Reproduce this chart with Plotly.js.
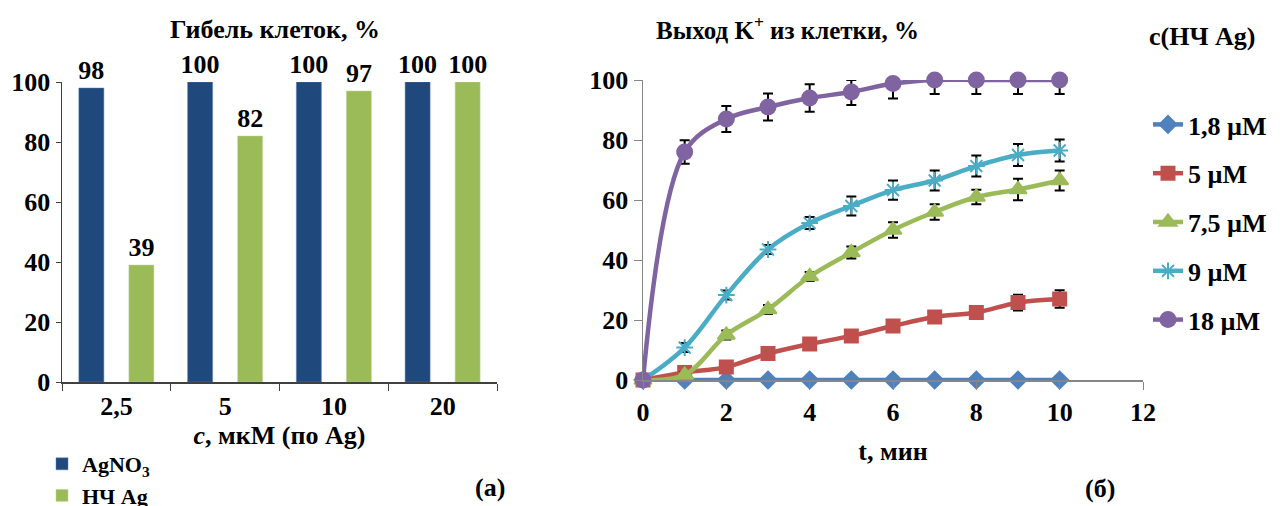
<!DOCTYPE html>
<html><head><meta charset="utf-8">
<script src="https://cdn.plot.ly/plotly-3.0.1.min.js"></script>
<style>
html,body{margin:0;padding:0;background:#fff}
#chart svg text{font-family:'Liberation Serif' !important;font-weight:bold !important}
</style>
</head><body>
<div id="chart" style="width:1285px;height:506px"></div>
<script>
// ---- Left chart data (cell death, %) ----
const concCats = ['2,5', '5', '10', '20'];
const agno3Vals = [98, 100, 100, 100];
const nanoVals = [39, 82, 97, 100];
const barNames = ['AgNO<sub>3</sub>', 'НЧ Ag'];

// ---- Right chart data (K+ release, %) ----
const tMin = [0, 1, 2, 3, 4, 5, 6, 7, 8, 9, 10];
const seriesNames = ['1,8 µM', '5 µM', '7,5 µM', '9 µM', '18 µM'];
const k18 = [0, 0, 0, 0, 0, 0, 0, 0, 0, 0, 0];
const k5 = [0, 2.5, 4.3, 8.8, 12, 14.7, 18, 21, 22.5, 25.8, 27];
const k75 = [0, 1.7, 15, 23.5, 34.5, 42.5, 50, 56, 61, 63.5, 66.5];
const k9 = [0, 10.8, 28.3, 43.5, 52.3, 58, 63.3, 66.5, 71.3, 75, 76.5];
const k18uM = [0, 76, 87, 91, 94, 96, 98.8, 100, 100, 100, 100];
const e18 = [0, 1, 1, 1, 1, 1, 1, 1, 1, 1, 1];
const e5 = [0, 0.5, 1, 1, 1, 1, 1, 1, 1.5, 2.6, 2.9];
const e75 = [0, 1, 1.5, 1.5, 1.5, 2, 2.6, 2.6, 2.4, 3.6, 3.3];
const e9 = [0, 1.5, 1.5, 1.5, 2, 3.2, 3.2, 3.3, 3.5, 3.7, 3.7];
const e18uM = [0, 3.9, 4.3, 4.5, 4.6, 4.3, 5, 4.7, 4.7, 4.7, 4.7];

const W = 1285, H = 506;
const px = x => x / W, py = y => (H - y) / H;
const FONT = 'Liberation Serif';
const bold = (size) => ({family: FONT, size: size, color: '#000', weight: 'bold'});

const traces = [];
traces.push({
  type: 'bar', x: concCats, y: agno3Vals, name: barNames[0], xaxis: 'x', yaxis: 'y',
  marker: {color: '#1F497D', line: {color: '#5a7fae', width: 0.5}},
  text: agno3Vals.map(String), textposition: 'outside', constraintext: 'none',
  textfont: bold(26), cliponaxis: false, legend: 'legend', hoverinfo: 'skip'
});
traces.push({
  type: 'bar', x: concCats, y: nanoVals, name: barNames[1], xaxis: 'x', yaxis: 'y',
  marker: {color: '#9BBB59', line: {color: '#c3d69b', width: 0.5}},
  text: nanoVals.map(String), textposition: 'outside', constraintext: 'none',
  textfont: bold(26), cliponaxis: false, legend: 'legend', hoverinfo: 'skip'
});

const lineSeries = [
  {y: k18, e: e18, color: '#4F81BD', symbol: 'diamond', size: 13},
  {y: k5, e: e5, color: '#C0504D', symbol: 'square', size: 13},
  {y: k75, e: e75, color: '#9BBB59', symbol: 'triangle-up', size: 15},
  {y: k9, e: e9, color: '#4BACC6', symbol: 'asterisk-open', size: 14},
  {y: k18uM, e: e18uM, color: '#8064A2', symbol: 'circle', size: 15}
];
lineSeries.forEach((s, i) => {
  traces.push({
    type: 'scatter', mode: 'lines+markers', x: tMin, y: s.y, name: seriesNames[i],
    xaxis: 'x2', yaxis: 'y2', legend: 'legend2', legendgroup: 'g' + i,
    line: {color: s.color, width: 4.5, shape: 'spline', smoothing: 1},
    marker: {color: s.color, symbol: s.symbol, size: s.size, line: {color: s.color, width: 2}},
    error_y: {type: 'data', symmetric: false,
      array: s.e.map((v, k) => Math.min(v, 100 - s.y[k])),
      arrayminus: s.e.map((v, k) => Math.min(v, s.y[k])),
      color: '#000', thickness: 2, width: 5},
    cliponaxis: false, hoverinfo: 'skip'
  });
});

const axisLeftCol = '#404040';
const axisRightCol = '#868686';
const layout = {
  width: W, height: H, margin: {l: 0, r: 0, t: 0, b: 0, autoexpand: false},
  paper_bgcolor: '#fff', plot_bgcolor: 'rgba(0,0,0,0)',
  font: {family: FONT, size: 26, color: '#000', weight: 'bold'},
  barmode: 'group', bargap: 0.08, bargroupgap: 0.5,
  xaxis: {
    domain: [px(62), px(497)], anchor: 'y', type: 'category', automargin: false,
    tickson: 'boundaries', ticks: 'outside', ticklen: 7, tickcolor: axisLeftCol,
    showline: true, linecolor: axisLeftCol, linewidth: 1.5, showgrid: false,
    tickfont: bold(26),
    title: {text: '<i>c</i>, мкМ (по Ag)', font: bold(26), standoff: 2}
  },
  yaxis: {
    domain: [py(382), py(82)], anchor: 'x', range: [0, 100], dtick: 20, automargin: false,
    ticks: 'outside', ticklen: 5, tickcolor: axisLeftCol,
    showline: true, linecolor: axisLeftCol, linewidth: 1.5, showgrid: false, zeroline: false,
    tickfont: bold(26)
  },
  xaxis2: {
    domain: [px(643), px(1143)], anchor: 'y2', range: [0, 12], dtick: 2, automargin: false,
    ticks: 'outside', ticklen: 8, tickcolor: axisRightCol,
    showline: true, linecolor: axisRightCol, linewidth: 1.5, showgrid: false, zeroline: false,
    tickfont: bold(26),
    title: {text: 't, мин', font: bold(26), standoff: 16}
  },
  yaxis2: {
    domain: [py(380), py(80)], anchor: 'x2', range: [0, 100], dtick: 20, automargin: false,
    ticks: 'outside', ticklen: 8, tickcolor: axisRightCol,
    showline: true, linecolor: axisRightCol, linewidth: 1.5, showgrid: false, zeroline: false,
    tickfont: bold(26)
  },
  legend: {
    x: px(42), y: py(443), xanchor: 'left', yanchor: 'top',
    font: bold(22), bgcolor: 'rgba(0,0,0,0)', tracegroupgap: 0, itemclick: false
  },
  legend2: {
    x: px(1148), y: py(101), xanchor: 'left', yanchor: 'top',
    font: bold(26), bgcolor: 'rgba(0,0,0,0)', tracegroupgap: 12, itemclick: false
  },
  showlegend: true,
  annotations: [
    {text: 'Гибель клеток, %', x: px(275), y: py(30), xref: 'paper', yref: 'paper',
     xanchor: 'center', yanchor: 'middle', showarrow: false, font: bold(26)},
    {text: 'Выход K<sup>+</sup> из клетки, %', x: px(787), y: py(28), xref: 'paper', yref: 'paper',
     xanchor: 'center', yanchor: 'middle', showarrow: false, font: bold(25)},
    {text: 'c(НЧ Ag)', x: px(1202), y: py(36), xref: 'paper', yref: 'paper',
     xanchor: 'center', yanchor: 'middle', showarrow: false, font: bold(26)},
    {text: '(а)', x: px(490), y: py(487), xref: 'paper', yref: 'paper',
     xanchor: 'center', yanchor: 'middle', showarrow: false, font: bold(26)},
    {text: '(б)', x: px(1100), y: py(488), xref: 'paper', yref: 'paper',
     xanchor: 'center', yanchor: 'middle', showarrow: false, font: bold(26)}
  ]
};

Plotly.newPlot('chart', traces, layout, {staticPlot: true, displayModeBar: false});
</script>
</body></html>
